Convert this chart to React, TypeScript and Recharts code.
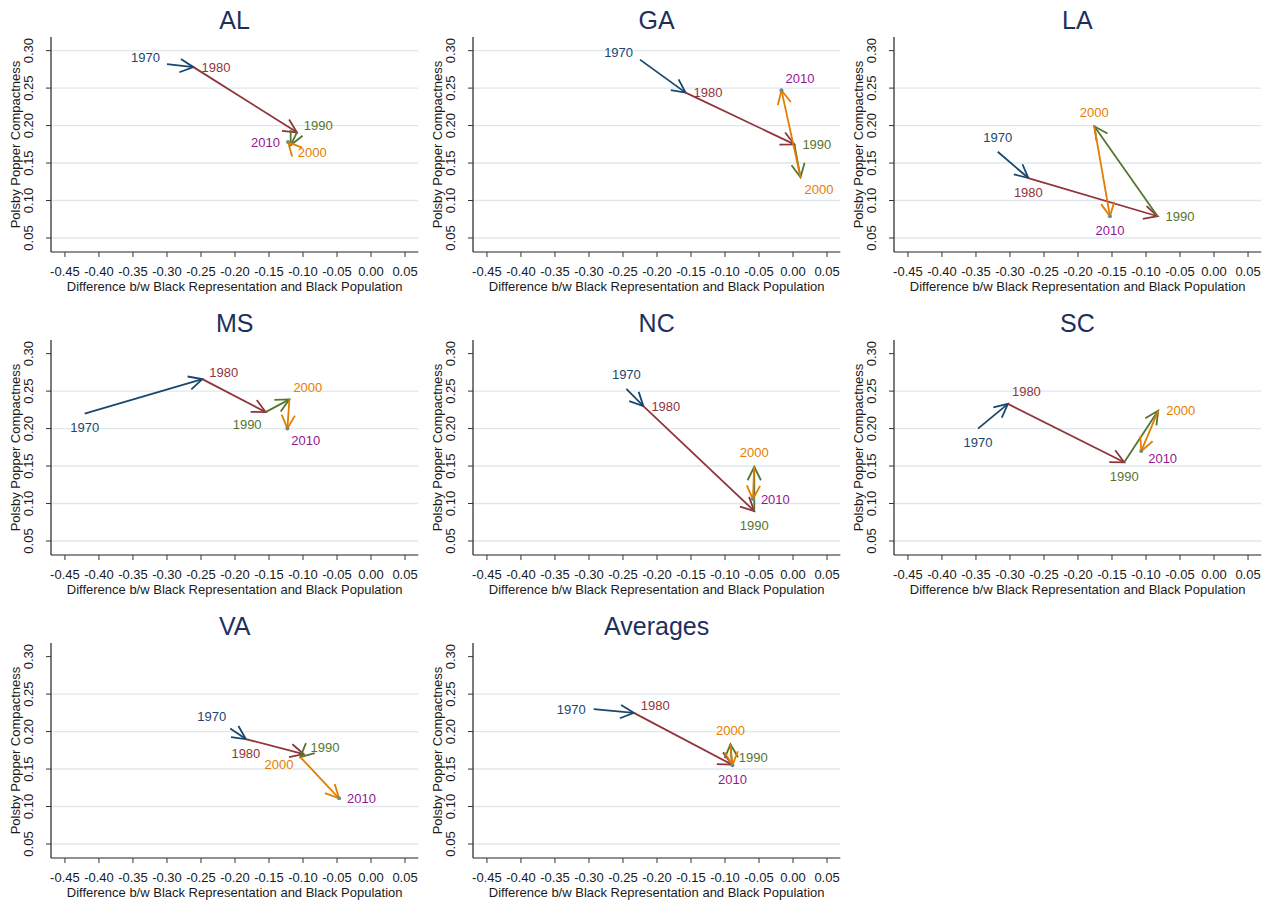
import React from 'react';
import { ScatterChart, Scatter, XAxis, YAxis, ReferenceLine } from 'recharts';

// ---------- data ----------
const years = [1970, 1980, 1990, 2000, 2010];
const xTickValues = [-0.45, -0.4, -0.35, -0.3, -0.25, -0.2, -0.15, -0.1, -0.05, 0, 0.05];
const yTickValues = [0.05, 0.1, 0.15, 0.2, 0.25, 0.3];

const alX = [-0.300, -0.261, -0.109, -0.118, -0.122];
const alY = [0.282, 0.278, 0.191, 0.174, 0.178];
const gaX = [-0.225, -0.158, 0.002, 0.011, -0.017];
const gaY = [0.288, 0.244, 0.175, 0.131, 0.247];
const laX = [-0.318, -0.273, -0.083, -0.176, -0.153];
const laY = [0.165, 0.130, 0.079, 0.199, 0.079];
const msX = [-0.421, -0.248, -0.155, -0.120, -0.123];
const msY = [0.220, 0.266, 0.222, 0.239, 0.200];
const ncX = [-0.245, -0.220, -0.057, -0.057, -0.059];
const ncY = [0.253, 0.230, 0.090, 0.149, 0.106];
const scX = [-0.347, -0.303, -0.132, -0.082, -0.107];
const scY = [0.200, 0.233, 0.155, 0.224, 0.170];
const vaX = [-0.207, -0.184, -0.099, -0.104, -0.047];
const vaY = [0.204, 0.190, 0.170, 0.166, 0.111];
const avX = [-0.293, -0.234, -0.090, -0.092, -0.089];
const avY = [0.230, 0.225, 0.156, 0.183, 0.155];

const panelTitles = ['AL', 'GA', 'LA', 'MS', 'NC', 'SC', 'VA', 'Averages'];
const panelXs = [alX, gaX, laX, msX, ncX, scX, vaX, avX];
const panelYs = [alY, gaY, laY, msY, ncY, scY, vaY, avY];

// ---------- styles ----------
const labelClocks = [
  [10, 3, 2, 4, 9],
  [10, 3, 3, 5, 1],
  [12, 6, 3, 12, 6],
  [6, 2, 7, 1, 5],
  [12, 3, 6, 12, 3],
  [6, 1, 6, 3, 4],
  [11, 6, 2, 8, 3],
  [9, 2, 2, 12, 6],
];
const gridSets = [
  [0.05, 0.1, 0.15, 0.2, 0.25, 0.3],
  [0.05, 0.1, 0.15, 0.2, 0.25, 0.3],
  [0.05, 0.1, 0.15, 0.2, 0.25],
  [0.05, 0.1, 0.15, 0.2, 0.25],
  [0.05, 0.1, 0.15, 0.2, 0.25],
  [0.05, 0.1, 0.15, 0.2, 0.25],
  [0.05, 0.1, 0.15, 0.2, 0.25],
  [0.05, 0.1, 0.15, 0.2, 0.25],
];
const yearColors = ['#1a476f', '#90353b', '#55752f', '#e37e00', '#93188f'];
const endDotColor = '#6e8e84';
const colLeft = [0, 422, 842.7];
const rowTop = [0, 303, 605.7];
const FONT = '"Liberation Sans", Arial, Helvetica, sans-serif';
const CW = 424;
const CH = 300;
const AXW = 51;
const MR = 5.7;
const XAH = 48;
const MT = 37;

const makeArrow = (color: string) => (props: any) => {
  const p = props && props.points;
  if (!p || p.length < 2) return <g />;
  const a = p[0];
  const b = p[1];
  const ang = Math.atan2(b.y - a.y, b.x - a.x);
  const L = 15;
  const H = 0.46;
  const b1x = b.x - L * Math.cos(ang - H);
  const b1y = b.y - L * Math.sin(ang - H);
  const b2x = b.x - L * Math.cos(ang + H);
  const b2y = b.y - L * Math.sin(ang + H);
  return (
    <g>
      <line x1={a.x} y1={a.y} x2={b.x} y2={b.y} stroke={color} strokeWidth={1.8} />
      <polyline
        points={`${b1x},${b1y} ${b.x},${b.y} ${b2x},${b2y}`}
        fill="none"
        stroke={color}
        strokeWidth={1.8}
        strokeLinejoin="miter"
      />
    </g>
  );
};

const LabelShape = (props: any) => {
  const { cx, cy, payload } = props;
  if (cx == null || cy == null) return <g />;
  const c = payload.clock;
  const th = ((90 - 30 * c) * Math.PI) / 180;
  const ux = Math.cos(th);
  const uy = -Math.sin(th);
  const anchor = ux > 0.2 ? 'start' : ux < -0.2 ? 'end' : 'middle';
  const tx = cx + ux * 8;
  const ty = cy + uy * 14;
  return (
    <g>
      {payload.idx === 4 && <circle cx={cx} cy={cy} r={2} fill={endDotColor} />}
      <text
        x={tx}
        y={ty}
        textAnchor={anchor}
        dominantBaseline="central"
        fontSize={13}
        fill={yearColors[payload.idx]}
        style={{ fontFamily: FONT }}
      >
        {payload.year}
      </text>
    </g>
  );
};

const XTick = (props: any) => {
  const { x, y, payload } = props;
  return (
    <text x={x} y={y + 12} textAnchor="middle" dominantBaseline="central" fontSize={13} fill="#1a1a1a" style={{ fontFamily: FONT }}>
      {Number(payload.value).toFixed(2)}
    </text>
  );
};

const YTick = (props: any) => {
  const { x, y, payload } = props;
  const cx = x - 15.7;
  return (
    <text
      x={cx}
      y={y}
      transform={`rotate(-90 ${cx} ${y})`}
      textAnchor="middle"
      dominantBaseline="central"
      fontSize={13}
      fill="#1a1a1a"
      style={{ fontFamily: FONT }}
    >
      {Number(payload.value).toFixed(2)}
    </text>
  );
};

const XTitle = (props: any) => {
  const vb = props.viewBox || { x: AXW, y: CH - XAH, width: CW - AXW - MR, height: XAH };
  return (
    <text x={vb.x + vb.width / 2} y={vb.y + 34} textAnchor="middle" dominantBaseline="central" fontSize={13} fill="#1a1a1a" style={{ fontFamily: FONT }}>
      Difference b/w Black Representation and Black Population
    </text>
  );
};

const YTitle = (props: any) => {
  const vb = props.viewBox || { x: 0, y: MT, width: AXW, height: CH - MT - XAH };
  const cx = vb.x + 15;
  const cy = vb.y + vb.height / 2;
  return (
    <text
      x={cx}
      y={cy}
      transform={`rotate(-90 ${cx} ${cy})`}
      textAnchor="middle"
      dominantBaseline="central"
      fontSize={13}
      fill="#1a1a1a"
      style={{ fontFamily: FONT }}
    >
      Polsby Popper Compactness
    </text>
  );
};

function Panel({ k }: { k: number }) {
  const xs = panelXs[k];
  const ys = panelYs[k];
  const pts = years.map((yr, i) => ({ x: xs[i], y: ys[i], year: yr, clock: labelClocks[k][i], idx: i }));
  const segs = [0, 1, 2, 3].map((i) => [pts[i], pts[i + 1]]);
  const left = colLeft[k % 3];
  const top = rowTop[Math.floor(k / 3)];
  return (
    <div style={{ position: 'absolute', left, top, width: CW, height: CH }}>
      <div
        style={{
          position: 'absolute',
          left: AXW,
          width: CW - AXW - MR,
          top: 5,
          height: 30,
          lineHeight: '30px',
          textAlign: 'center',
          fontSize: 25,
          color: '#1e2f5e',
          fontFamily: FONT,
        }}
      >
        {panelTitles[k]}
      </div>
      <ScatterChart width={CW} height={CH} margin={{ top: MT, right: MR, bottom: 0, left: 0 }}>
        <XAxis
          type="number"
          dataKey="x"
          domain={[-0.4705, 0.0695]}
          allowDataOverflow
          ticks={xTickValues}
          interval={0}
          height={XAH}
          tickSize={5}
          tickMargin={2}
          tick={XTick}
          tickLine={{ stroke: '#333', strokeWidth: 1 }}
          axisLine={{ stroke: '#222', strokeWidth: 1.2 }}
          label={XTitle}
        />
        <YAxis
          type="number"
          dataKey="y"
          domain={[0.0313, 0.3182]}
          allowDataOverflow
          ticks={yTickValues}
          interval={0}
          width={AXW}
          tickSize={5}
          tickMargin={2}
          tick={YTick}
          tickLine={{ stroke: '#333', strokeWidth: 1 }}
          axisLine={{ stroke: '#222', strokeWidth: 1.2 }}
          label={YTitle}
        />
        {gridSets[k].map((v) => (
          <ReferenceLine key={v} y={v} stroke="#dfe8ed" strokeWidth={1.4} />
        ))}
        {segs.map((s, i) => (
          <Scatter
            key={i}
            data={s}
            line={makeArrow(yearColors[i])}
            shape={() => <g />}
            fill={yearColors[i]}
            isAnimationActive={false}
          />
        ))}
        <Scatter data={pts} shape={LabelShape} fill="#000" isAnimationActive={false} />
      </ScatterChart>
    </div>
  );
}

export default function App() {
  return (
    <div
      style={{
        position: 'absolute',
        left: 0,
        top: 0,
        width: 1271,
        height: 902,
        background: '#fff',
        fontFamily: FONT,
      }}
    >
      {panelTitles.map((_, k) => (
        <Panel key={k} k={k} />
      ))}
    </div>
  );
}
